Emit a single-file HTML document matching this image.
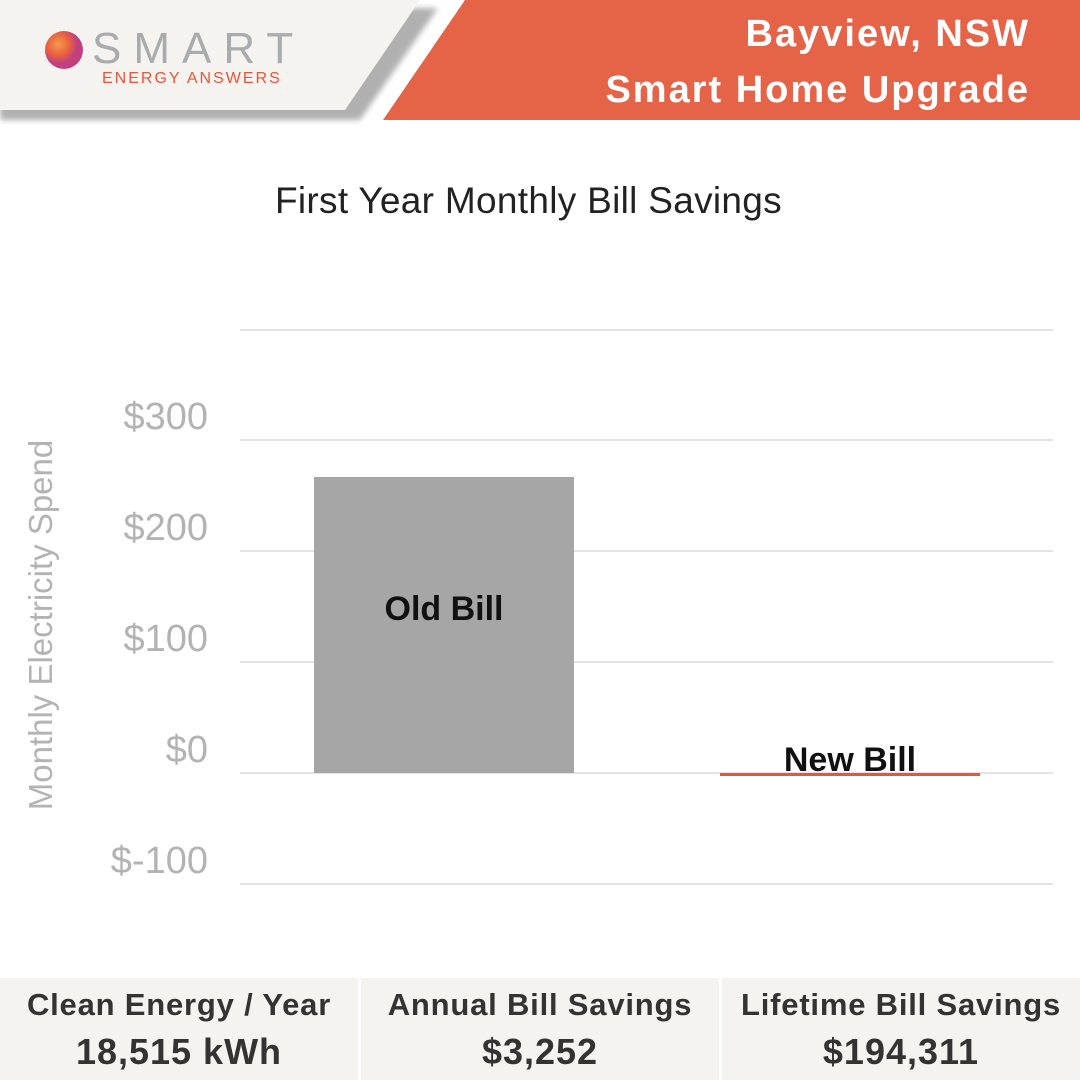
<!DOCTYPE html>
<html><head><meta charset="utf-8"><style>
body{margin:0;width:1080px;height:1080px;background:#fff;position:relative;overflow:hidden;font-family:"Liberation Sans",sans-serif}
.a{position:absolute}
.hd{font-weight:bold;color:#fff;font-size:38px;text-align:right;right:50px;letter-spacing:2px}
.g{position:absolute;left:240px;width:813px;height:2px;background:#e3e3e3}
.yl{position:absolute;right:872px;font-size:38px;color:#b3b3b3}
.st{position:absolute;top:978px;height:102px;width:358px;background:#f4f3f0;text-align:center;color:#333;font-weight:bold}
.st .t{font-size:31px;margin-top:9px;letter-spacing:0.8px}
.st .v{font-size:36px;margin-top:8px;letter-spacing:1px}
</style></head><body>
<svg class="a" style="left:0;top:0" width="1080" height="130">
<defs><filter id="s"><feGaussianBlur stdDeviation="3"/></filter>
<radialGradient id="b" cx="35%" cy="35%"><stop offset="0" stop-color="#f59a4a"/><stop offset="0.6" stop-color="#ea6040"/><stop offset="1" stop-color="#c04080"/></radialGradient></defs>
<polygon points="0,8 438,8 360,120 0,120" fill="#b0b0b0" filter="url(#s)"/>
<polygon points="0,0 420,0 345,110 0,110" fill="#f4f3f0"/>
<polygon points="465,0 1080,0 1080,120 383,120" fill="#e56347"/>
<circle cx="64" cy="50" r="19" fill="url(#b)"/>
<text x="92" y="63" font-size="44" fill="#a8acae" font-family="Liberation Sans" letter-spacing="12">SMART</text>
<text x="102" y="83" font-size="16" fill="#e8553a" font-family="Liberation Sans" letter-spacing="2">ENERGY ANSWERS</text>
</svg>
<div class="a hd" style="top:13px">Bayview, NSW</div>
<div class="a hd" style="top:69px">Smart Home Upgrade</div>
<div class="a" style="left:275px;top:180px;font-size:37px;color:#222;letter-spacing:0.3px">First Year Monthly Bill Savings</div>
<div class="g" style="top:329px"></div><div class="g" style="top:439px"></div><div class="g" style="top:550px"></div><div class="g" style="top:661px"></div><div class="g" style="top:772px"></div><div class="g" style="top:883px"></div>
<div class="yl" style="top:396px">$300</div><div class="yl" style="top:507px">$200</div><div class="yl" style="top:618px">$100</div><div class="yl" style="top:729px">$0</div><div class="yl" style="top:840px">$-100</div>
<div class="a" style="top:606px;width:420px;margin-left:-210px;text-align:center;transform:rotate(-90deg);font-size:33px;color:#b3b3b3;left:41px">Monthly Electricity Spend</div>
<div class="a" style="left:314px;top:477px;width:260px;height:296px;background:#a6a6a6"></div>
<div class="a" style="left:314px;top:590px;width:260px;text-align:center;font-size:34px;font-weight:bold;color:#111">Old Bill</div>
<div class="a" style="left:720px;top:773px;width:260px;height:3px;background:#e8553a"></div>
<div class="a" style="left:720px;top:741px;width:260px;text-align:center;font-size:34px;font-weight:bold;color:#111">New Bill</div>
<div class="st" style="left:0"><div class="t">Clean Energy / Year</div><div class="v">18,515 kWh</div></div>
<div class="st" style="left:361px"><div class="t">Annual Bill Savings</div><div class="v">$3,252</div></div>
<div class="st" style="left:722px"><div class="t">Lifetime Bill Savings</div><div class="v">$194,311</div></div>
</body></html>
